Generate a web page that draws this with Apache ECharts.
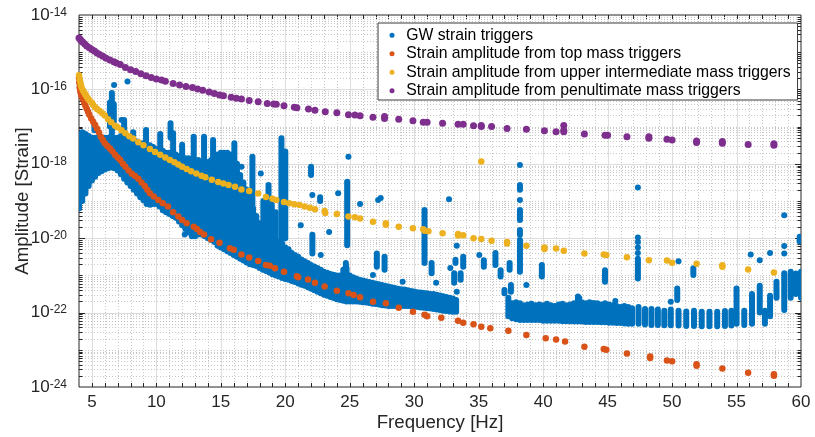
<!DOCTYPE html>
<html><head><meta charset="utf-8">
<script src="https://cdn.jsdelivr.net/npm/echarts@6/dist/echarts.min.js"></script>
<style>html,body{margin:0;padding:0;background:#fff}#c{width:815px;height:437px}</style>
</head><body><div id="c"></div>
<script>
// ---------------- DATA (amplitudes are given as log10 of strain) ----------------
const seriesNames = [
  'GW strain triggers',
  'Strain amplitude from top mass triggers',
  'Strain amplitude from upper intermediate mass triggers',
  'Strain amplitude from penultimate mass triggers'
];
const xTickLabels = [5,10,15,20,25,30,35,40,45,50,55,60];
const yTickExponents = [-24,-22,-20,-18,-16,-14];

// GW strain triggers: dense columns [freq, log10 low, log10 high]
const gwColumns = [
[4.0,-19.2,-17.2],[4.25,-19.0,-17.15],[4.5,-18.8,-17.2],[4.75,-18.6,-17.25],[5.0,-18.45,-17.3],[5.25,-18.35,-17.3],
[5.5,-18.25,-17.3],[5.75,-18.2,-17.3],[6.0,-18.15,-17.3],[6.25,-18.12,-17.3],[6.5,-18.1,-17.25],[6.75,-18.12,-17.3],
[7.0,-18.18,-17.3],[7.25,-18.28,-17.25],[7.5,-18.4,-17.3],[7.75,-18.5,-17.3],[8.0,-18.6,-17.35],[8.25,-18.7,-17.4],
[8.5,-18.8,-17.4],[8.75,-18.9,-17.45],[9.0,-18.98,-17.45],[9.25,-19.08,-17.5],[9.5,-19.1,-17.5],[9.75,-19.08,-17.55],
[10.0,-19.08,-17.6],[10.25,-19.15,-17.6],[10.5,-19.25,-17.65],[10.75,-19.3,-17.7],[11.0,-19.35,-17.7],[11.25,-19.4,-17.7],
[11.5,-19.45,-17.75],[11.75,-19.55,-17.8],[12.0,-19.65,-17.8],[12.25,-19.75,-17.85],[12.5,-19.85,-17.85],[12.75,-19.95,-17.9],
[13.0,-19.95,-17.9],[13.25,-19.9,-17.9],[13.5,-19.9,-17.95],[13.75,-19.95,-17.95],[14.0,-20.0,-17.95],[14.25,-20.05,-17.9],
[14.5,-20.1,-17.85],[14.75,-20.2,-17.75],[15.0,-20.25,-17.7],[15.25,-20.3,-17.7],[15.5,-20.35,-17.7],[15.75,-20.4,-17.75],
[16.0,-20.45,-17.8],[16.25,-20.5,-18.0],[16.5,-20.55,-18.3],[16.75,-20.6,-18.5],[17.0,-20.65,-18.7],[17.25,-20.7,-18.9],
[17.5,-20.72,-19.2],[17.75,-20.75,-19.4],[18.0,-20.8,-19.6],[18.25,-20.85,-19.75],[18.5,-20.88,-19.85],[18.75,-20.92,-19.95],
[19.0,-20.97,-20.0],[19.25,-21.0,-20.05],[19.5,-21.03,-20.1],[19.75,-21.07,-20.15],[20.0,-21.1,-20.25],[20.25,-21.12,-20.3],
[20.5,-21.15,-20.4],[20.75,-21.18,-20.45],[21.0,-21.22,-20.5],[21.25,-21.25,-20.57],[21.5,-21.28,-20.62],[21.75,-21.32,-20.67],
[22.0,-21.36,-20.72],[22.25,-21.4,-20.76],[22.5,-21.44,-20.8],[22.75,-21.48,-20.85],[23.0,-21.52,-20.9],[23.25,-21.55,-20.93],
[23.5,-21.58,-20.96],[23.75,-21.61,-20.98],[24.0,-21.64,-21.0],[24.25,-21.66,-21.0],[24.5,-21.68,-20.85],[24.75,-21.7,-20.8],
[25.0,-21.7,-21.0],[25.25,-21.7,-21.05],[25.5,-21.7,-21.08],[25.75,-21.71,-21.12],[26.0,-21.72,-21.14],[26.25,-21.73,-21.16],
[26.5,-21.74,-21.18],[26.75,-21.76,-21.2],[27.0,-21.77,-21.22],[27.25,-21.78,-21.24],[27.5,-21.8,-21.26],[27.75,-21.81,-21.28],
[28.0,-21.82,-21.3],[28.25,-21.82,-21.32],[28.5,-21.82,-21.34],[28.75,-21.82,-21.36],[29.0,-21.82,-21.37],[29.25,-21.82,-21.38],
[29.5,-21.82,-21.4],[29.75,-21.83,-21.42],[30.0,-21.84,-21.43],[30.25,-21.85,-21.45],[30.5,-21.86,-21.46],[30.75,-21.87,-21.47],
[31.0,-21.88,-21.48],[31.25,-21.89,-21.5],[31.5,-21.9,-21.5],[31.75,-21.92,-21.52],[32.0,-21.93,-21.54],[32.25,-21.95,-21.56],
[32.5,-21.96,-21.58],[32.75,-21.97,-21.6],[33.0,-21.98,-21.62],[33.25,-21.98,-21.66],
[37.3,-22.1,-21.6],[37.6,-22.15,-21.75],[37.9,-22.18,-21.72],[38.2,-22.2,-21.75],[38.5,-22.2,-21.8],[38.8,-22.2,-21.78],
[39.1,-22.2,-21.76],[39.4,-22.2,-21.8],[39.7,-22.2,-21.78],[40.0,-22.22,-21.8],[40.3,-22.22,-21.76],[40.6,-22.22,-21.8],
[40.9,-22.22,-21.82],[41.2,-22.22,-21.78],[41.5,-22.23,-21.76],[41.8,-22.23,-21.8],[42.1,-22.23,-21.78],[42.4,-22.24,-21.75],
[42.7,-22.24,-21.7],[43.0,-22.24,-21.72],[43.3,-22.25,-21.75],[43.6,-22.25,-21.72],[43.9,-22.25,-21.74],[44.2,-22.25,-21.75],
[44.5,-22.26,-21.78],[44.8,-22.26,-21.75],[45.1,-22.27,-21.78],[45.4,-22.27,-21.8],[45.7,-22.28,-21.82],[46.0,-22.28,-21.85],
[46.3,-22.29,-21.82],[46.6,-22.3,-21.85],[46.9,-22.3,-21.88],[47.4,-22.3,-21.85],[47.9,-22.32,-21.9],[48.4,-22.33,-21.9],
[48.9,-22.33,-21.92],[49.4,-22.34,-21.95],[49.9,-22.34,-21.92],[50.5,-22.35,-21.95],[51.1,-22.36,-21.97],[51.7,-22.36,-21.95],
[52.3,-22.37,-21.98],[52.9,-22.37,-21.98],[53.5,-22.37,-21.98],[54.1,-22.36,-21.96],[54.6,-22.35,-21.95],[55.0,-22.3,-21.35],
[55.6,-22.33,-21.95],[56.2,-22.3,-21.5],[56.8,-22.0,-21.28],[57.2,-22.3,-21.95],[57.6,-22.1,-21.55],[58.1,-21.6,-21.17],
[58.7,-21.93,-20.94],[59.2,-21.6,-20.9],[59.6,-21.5,-20.95],[60.0,-21.6,-20.9]
];
// GW strain triggers: narrow vertical streaks [freq, log10 low, log10 high]
const gwStreaks = [
[5.2,-17.1,-16.95],[6.4,-17.0,-16.35],[6.55,-17.2,-16.1],[6.7,-16.9,-16.4],[7.5,-17.3,-16.82],[8.2,-17.5,-17.15],
[9.2,-17.55,-17.09],[10.3,-17.6,-17.2],[11.1,-17.3,-16.91],[11.3,-17.9,-17.18],[12.0,-18.0,-17.49],[12.9,-18.17,-17.27],
[13.7,-17.9,-17.27],[14.4,-17.9,-17.36],[16.05,-18.9,-17.45],[17.45,-20.4,-17.81],[18.3,-20.2,-19.0],[18.6,-20.1,-18.9],
[18.7,-19.24,-18.57],[18.95,-20.15,-19.1],[19.25,-20.0,-19.3],[19.7,-20.2,-17.31],[20.0,-20.0,-17.67],[22.0,-18.3,-18.08],
[22.1,-20.41,-19.91],[22.7,-19.0,-18.9],[24.8,-20.19,-18.48],[24.7,-20.94,-20.67],[27.1,-20.77,-20.41],[27.7,-20.85,-20.5],
[30.8,-20.67,-19.24],[31.35,-20.94,-20.67],[33.2,-20.67,-20.58],[33.1,-21.2,-20.94],[33.6,-21.12,-20.94],[33.8,-20.77,-20.5],
[35.4,-20.77,-20.59],[36.3,-20.72,-20.4],[36.7,-21.03,-20.86],[37.0,-21.48,-21.39],[37.4,-20.85,-20.67],[37.5,-21.44,-21.26],
[38.2,-18.7,-18.57],[38.2,-19.51,-19.24],[38.2,-19.91,-19.78],[38.2,-20.9,-20.05],[39.9,-21.03,-20.72],[42.7,-21.71,-21.57],
[44.8,-21.17,-20.86],[47.35,-21.08,-20.55],[50.4,-21.66,-21.35],[51.65,-20.99,-20.81],[59.9,-20.09,-19.96]
];
// GW strain triggers: isolated points [freq, log10 amplitude]
const gwPoints = [
[5.2,-16.96],[6.72,-15.88],[7.76,-15.79],[7.3,-16.82],[12.2,-19.9],[16.6,-18.08],[18.1,-18.26],[24.9,-17.81],[22.1,-18.84],
[24.1,-18.79],[21.2,-19.65],[23.4,-19.83],[22.75,-20.45],[25.8,-19.08],[27.2,-18.97],[27.4,-18.92],[26.8,-20.99],[29.1,-21.17],
[31.7,-21.2],[32.7,-18.95],[32.8,-20.8],[33.3,-20.2],[33.3,-21.44],[35.05,-20.45],[38.2,-18.03],[38.2,-18.97],[38.7,-21.26],
[40.1,-20.26],[42.8,-21.61],[45.6,-21.69],[47.35,-18.64],[47.35,-19.98],[47.35,-20.1],[47.35,-20.25],[47.35,-20.4],[49.9,-21.71],
[50.5,-20.62],[56.1,-20.44],[56.8,-20.59],[57.6,-20.4],[58.7,-19.38],[58.7,-20.21],[58.7,-20.41]
];
// Strain amplitude from top mass triggers [freq, log10 amplitude]
const topMass = [
[4.0,-15.7],[4.02,-15.82],[4.05,-15.95],[4.1,-16.05],[4.15,-16.12],[4.2,-16.18],[4.3,-16.26],[4.4,-16.36],[4.5,-16.44],
[4.6,-16.52],[4.7,-16.6],[4.8,-16.68],[4.95,-16.78],[5.1,-16.87],[5.25,-16.96],[5.4,-17.06],[5.55,-17.16],[5.7,-17.27],
[5.85,-17.36],[6.0,-17.45],[6.2,-17.52],[6.4,-17.59],[6.6,-17.67],[6.8,-17.76],[7.0,-17.83],[7.2,-17.9],[7.4,-18.0],
[7.6,-18.08],[7.85,-18.18],[8.1,-18.27],[8.35,-18.33],[8.6,-18.4],[8.85,-18.5],[9.1,-18.6],[9.3,-18.7],[9.5,-18.79],
[9.8,-18.88],[10.15,-18.97],[10.5,-19.06],[10.9,-19.15],[11.3,-19.3],[11.7,-19.42],[12.0,-19.51],[12.35,-19.6],[12.9,-19.69],
[13.15,-19.75],[13.4,-19.83],[13.7,-19.9],[14.24,-20.03],[14.9,-20.12],[15.7,-20.27],[16.0,-20.31],[16.6,-20.44],[17.2,-20.52],
[17.9,-20.61],[18.5,-20.72],[18.8,-20.74],[19.2,-20.81],[19.9,-20.9],[20.9,-21.02],[21.0,-21.05],[21.76,-21.11],[22.3,-21.2],
[23.05,-21.3],[24.0,-21.41],[24.9,-21.48],[25.3,-21.53],[25.8,-21.59],[26.8,-21.71],[27.8,-21.75],[28.8,-21.87],[29.9,-21.98],
[30.8,-22.06],[31.0,-22.1],[32.1,-22.14],[33.4,-22.22],[33.8,-22.27],[34.6,-22.31],[35.2,-22.38],[35.9,-22.42],[37.3,-22.49],
[38.7,-22.6],[40.2,-22.69],[41.0,-22.72],[41.7,-22.78],[43.2,-22.92],[44.7,-22.98],[44.9,-23.0],[46.5,-23.1],[48.3,-23.18],
[48.3,-23.22],[49.6,-23.29],[50.0,-23.31],[51.9,-23.39],[51.9,-23.43],[53.9,-23.5],[55.9,-23.62],[57.9,-23.66],[57.9,-23.7]
];
// Strain amplitude from upper intermediate mass triggers [freq, log10 amplitude]
const upperIntermediateMass = [
[4.0,-15.62],[4.05,-15.72],[4.1,-15.8],[4.15,-15.88],[4.2,-15.95],[4.3,-16.02],[4.4,-16.08],[4.5,-16.14],[4.6,-16.2],
[4.7,-16.25],[4.8,-16.29],[5.0,-16.36],[5.1,-16.42],[5.25,-16.48],[5.4,-16.53],[5.6,-16.58],[5.8,-16.64],[6.0,-16.7],
[6.25,-16.8],[6.5,-16.88],[6.8,-16.98],[7.0,-17.02],[7.3,-17.1],[7.6,-17.18],[7.9,-17.26],[8.2,-17.32],[8.6,-17.42],
[9.0,-17.5],[9.5,-17.6],[9.9,-17.68],[10.3,-17.76],[10.7,-17.83],[11.05,-17.9],[11.4,-17.96],[11.7,-18.02],[12.0,-18.08],
[12.35,-18.14],[12.7,-18.2],[13.1,-18.26],[13.5,-18.32],[13.8,-18.36],[14.3,-18.43],[14.8,-18.49],[15.2,-18.53],[15.6,-18.57],
[16.1,-18.62],[16.6,-18.69],[17.2,-18.73],[17.9,-18.8],[18.5,-18.89],[19.0,-18.94],[19.3,-18.97],[19.9,-19.03],[20.3,-19.06],
[20.7,-19.09],[21.1,-19.11],[21.5,-19.15],[21.9,-19.18],[22.3,-19.22],[23.05,-19.27],[23.1,-19.32],[24.0,-19.35],[24.9,-19.42],
[25.4,-19.44],[25.8,-19.47],[26.8,-19.56],[27.8,-19.6],[27.8,-19.64],[28.8,-19.69],[29.9,-19.73],[30.7,-19.76],[30.8,-19.8],
[31.1,-19.81],[32.2,-19.87],[33.4,-19.89],[33.4,-19.93],[33.8,-19.92],[34.6,-20.0],[35.2,-17.94],[35.2,-20.02],[36.0,-20.07],
[37.2,-20.1],[37.2,-20.14],[38.7,-20.2],[40.1,-20.25],[40.1,-20.29],[41.0,-20.28],[41.6,-20.34],[43.2,-20.41],[44.7,-20.44],
[44.9,-20.45],[46.5,-20.51],[48.2,-20.59],[49.6,-20.6],[50.0,-20.66],[51.9,-20.69],[53.9,-20.73],[53.9,-20.77],[55.9,-20.84],
[57.9,-20.92]
];
// Strain amplitude from penultimate mass triggers [freq, log10 amplitude]
const penultimateMass = [
[4.0,-14.62],[4.1,-14.66],[4.2,-14.7],[4.3,-14.73],[4.45,-14.78],[4.6,-14.83],[4.8,-14.88],[5.0,-14.93],[5.2,-14.97],
[5.4,-15.02],[5.6,-15.06],[5.85,-15.11],[6.1,-15.16],[6.4,-15.21],[6.7,-15.26],[6.9,-15.29],[7.2,-15.33],[7.6,-15.41],
[8.0,-15.47],[8.4,-15.52],[8.8,-15.58],[9.2,-15.63],[9.6,-15.68],[10.0,-15.72],[10.4,-15.75],[10.7,-15.78],[11.3,-15.84],
[11.8,-15.88],[12.3,-15.92],[12.8,-15.95],[13.2,-15.99],[13.6,-16.02],[14.1,-16.07],[14.5,-16.11],[14.9,-16.15],[15.2,-16.17],
[15.8,-16.21],[16.2,-16.24],[16.6,-16.26],[17.2,-16.3],[17.9,-16.33],[18.6,-16.38],[19.1,-16.39],[19.3,-16.4],[19.9,-16.44],
[20.7,-16.48],[20.9,-16.49],[21.8,-16.53],[22.3,-16.56],[23.1,-16.6],[24.0,-16.63],[24.9,-16.68],[25.4,-16.69],[25.8,-16.71],
[26.8,-16.75],[27.7,-16.73],[27.7,-16.78],[28.8,-16.8],[29.9,-16.84],[30.7,-16.88],[31.0,-16.88],[32.2,-16.91],[33.4,-16.94],
[33.8,-16.94],[34.6,-16.98],[35.2,-16.97],[35.2,-17.0],[36.0,-17.0],[37.2,-17.05],[38.7,-17.07],[40.1,-17.11],[41.0,-17.14],
[41.6,-16.97],[41.6,-17.1],[41.6,-17.14],[43.2,-17.2],[44.8,-17.23],[45.0,-17.23],[46.5,-17.27],[48.2,-17.27],[48.2,-17.31],
[49.6,-17.34],[50.0,-17.36],[51.9,-17.39],[51.9,-17.43],[53.9,-17.4],[53.9,-17.45],[55.9,-17.48],[57.9,-17.46],[57.9,-17.5]
];

// ---------------- RENDERING ----------------
// The y axis is a linear value axis in log10(strain) units (decades), labelled as powers of ten.
const FONT = '"Liberation Sans", Arial, Helvetica, sans-serif';
const C_BLUE = '#0072BD', C_ORANGE = '#D95319', C_YELLOW = '#EDB120', C_PURPLE = '#7E2F8E';
const AX = '#262626';

// gridline / tick positions: kind 0 x-major, 1 x-minor, 2 y-major, 3 y-minor
const gridItems = [];
for (let f = 5; f <= 59; f++) gridItems.push([f, -20, (f % 5 === 0) ? 0 : 1]);
for (let n = -24; n <= -15; n++) {
  if (n > -24) gridItems.push([10, n, (n % 2 === 0) ? 2 : 3]);
  for (let k = 2; k <= 9; k++) gridItems.push([10, n + Math.log10(k), 3]);
}

function gridRender(params, api) {
  const kind = api.value(2);
  const cs = params.coordSys;
  const ch = [];
  const major = {stroke: '#dddddd', lineWidth: 1};
  const minor = {stroke: '#c8c8c8', lineWidth: 1, lineDash: [1, 2]};
  const tick = {stroke: AX, lineWidth: 1};
  if (kind <= 1) {
    const x = Math.round(api.coord([api.value(0), -20])[0]) + 0.5;
    const y0 = cs.y, y1 = cs.y + cs.height;
    ch.push({type: 'line', shape: {x1: x, y1: y0, x2: x, y2: y1}, style: kind === 0 ? major : minor});
    ch.push({type: 'line', shape: {x1: x, y1: y1, x2: x, y2: y1 - 4}, style: tick});
    ch.push({type: 'line', shape: {x1: x, y1: y0, x2: x, y2: y0 + 4}, style: tick});
  } else {
    const y = Math.round(api.coord([10, api.value(1)])[1]) + 0.5;
    const x0 = cs.x, x1 = cs.x + cs.width;
    ch.push({type: 'line', shape: {x1: x0, y1: y, x2: x1, y2: y}, style: kind === 2 ? major : minor});
    const len = kind === 2 ? 6 : 3.5;
    ch.push({type: 'line', shape: {x1: x0, y1: y, x2: x0 + len, y2: y}, style: tick});
    ch.push({type: 'line', shape: {x1: x1, y1: y, x2: x1 - len, y2: y}, style: tick});
  }
  return {type: 'group', children: ch};
}

function colRender(params, api) {
  const f = api.value(0);
  const p1 = api.coord([f, api.value(1)]);
  const p2 = api.coord([f, api.value(2)]);
  return {type: 'line', shape: {x1: p1[0], y1: p1[1], x2: p2[0], y2: p2[1]},
          style: {stroke: C_BLUE, lineWidth: 6, lineCap: 'round'}};
}

const chart = echarts.init(document.getElementById('c'), null, {renderer: 'canvas'});
chart.setOption({
  animation: false,
  backgroundColor: '#fff',
  textStyle: {fontFamily: FONT},
  grid: {left: 79, top: 15, width: 722, height: 372, show: true, borderColor: AX, borderWidth: 1,
         containLabel: false, outerBoundsMode: 'none'},
  xAxis: {
    type: 'value', min: 4, max: 60, interval: 1,
    axisLine: {show: false}, axisTick: {show: false}, splitLine: {show: false},
    axisLabel: {interval: 0, margin: 7, fontSize: 17, color: AX, fontFamily: FONT,
      formatter: v => xTickLabels.indexOf(v) >= 0 ? String(v) : ''},
    name: 'Frequency [Hz]', nameLocation: 'middle', nameGap: 26, nameMoveOverlap: false,
    nameTextStyle: {fontSize: 18.7, color: AX, fontFamily: FONT}
  },
  yAxis: {
    type: 'value', min: -24, max: -14, interval: 2,
    axisLine: {show: false}, axisTick: {show: false}, splitLine: {show: false},
    axisLabel: {
      margin: 12, color: AX,
      formatter: v => yTickExponents.indexOf(v) >= 0 ? '{b|10}{s|' + v + '}' : '',
      rich: {
        b: {fontSize: 17, fontFamily: FONT, color: AX, verticalAlign: 'bottom'},
        s: {fontSize: 12, fontFamily: FONT, color: AX, verticalAlign: 'top'}
      }
    },
    name: 'Amplitude [Strain]', nameLocation: 'middle', nameGap: 47, nameMoveOverlap: false,
    nameTextStyle: {fontSize: 18.7, color: AX, fontFamily: FONT}
  },
  legend: {
    data: seriesNames.map(n => ({name: n, icon: 'circle'})),
    orient: 'vertical', left: 378, top: 23, padding: [3, 7, 0, 11.5], itemGap: 0,
    itemWidth: 18.5, itemHeight: 5, backgroundColor: '#fff', borderColor: '#3a3a3a', borderWidth: 1,
    textStyle: {fontSize: 15.75, lineHeight: 18.5, color: '#000', fontFamily: FONT}, z: 20, selectedMode: false
  },
  series: [
    {type: 'custom', name: 'gridlines', data: gridItems, renderItem: gridRender, z: 1, silent: true,
     encode: {x: 0, y: 1}},
    {type: 'scatter', name: seriesNames[0], data: gwPoints, symbolSize: 6, itemStyle: {color: C_BLUE, opacity: 1}, z: 2},
    {type: 'custom', name: seriesNames[0], data: gwColumns, renderItem: colRender, itemStyle: {color: C_BLUE}, z: 2, clip: true,
     encode: {x: 0, y: [1, 2]}},
    {type: 'custom', name: seriesNames[0], data: gwStreaks, renderItem: colRender, itemStyle: {color: C_BLUE}, z: 2, clip: true,
     encode: {x: 0, y: [1, 2]}},
    {type: 'scatter', name: seriesNames[1], data: topMass, symbolSize: 6.5, itemStyle: {color: C_ORANGE, opacity: 1}, z: 3},
    {type: 'scatter', name: seriesNames[2], data: upperIntermediateMass, symbolSize: 6.5, itemStyle: {color: C_YELLOW, opacity: 1}, z: 4},
    {type: 'scatter', name: seriesNames[3], data: penultimateMass, symbolSize: 7, itemStyle: {color: C_PURPLE, opacity: 1}, z: 5}
  ]
});
</script></body></html>
